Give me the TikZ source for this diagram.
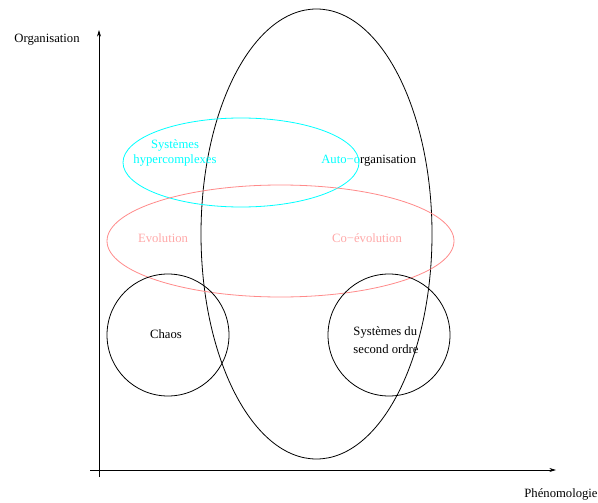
\documentclass[tikz,border=0pt]{standalone}
\usepackage{fontspec}
\setmainfont{Liberation Serif}
\usetikzlibrary{arrows.meta}
\definecolor{redline}{RGB}{255,138,138}
\definecolor{pinktext}{RGB}{255,168,168}
\definecolor{cyanline}{RGB}{0,255,255}
\begin{document}
\begin{tikzpicture}[x=0.75pt,y=-0.75pt,
  lbl/.style={font=\fontsize{9.5}{11.5}\selectfont, inner sep=0pt, align=center},
  axis/.style={line width=0.6pt, -{Stealth[length=5pt,width=3pt]}},
  outline/.style={line width=0.6pt}]
\useasboundingbox (0,0) rectangle (598,502);
% axes
\coordinate (yb) at (99,477);
\coordinate (yt) at (99,30);
\coordinate (xl) at (90,470);
\coordinate (xr) at (556,470);
\draw[axis] (yb) -- (yt);
\draw[axis] (xl) -- (xr);
\node[lbl] (org) at (47,40) {Organisation};
\node[lbl] (phen) at (561,494) {Phénomologie};
% ellipses
\draw[outline] (316.5,234) ellipse [x radius=115.5, y radius=225];
\draw[outline, cyanline] (241,162.5) ellipse [x radius=118, y radius=44.5];
\draw[outline, redline] (280.5,241) ellipse [x radius=173.5, y radius=56];
\draw[outline] (168,335) circle [radius=61];
\draw[outline] (389,335) circle [radius=61];
% labels
\node[lbl, cyanline] (hyper) at (175,153) {Systèmes\\hypercomplexes};
\node[lbl, anchor=west] (auto) at (321,161) {\textcolor{cyanline}{Auto−o}rganisation};
\node[lbl, pinktext] (evol) at (163,238) {Evolution};
\node[lbl, pinktext] (coevol) at (367,238) {Co−évolution};
\node[lbl] (chaos) at (166,334) {Chaos};
\node[lbl, align=left] (second) at (386,340) {Systèmes du\\[2pt]second ordre};
\end{tikzpicture}
\end{document}
